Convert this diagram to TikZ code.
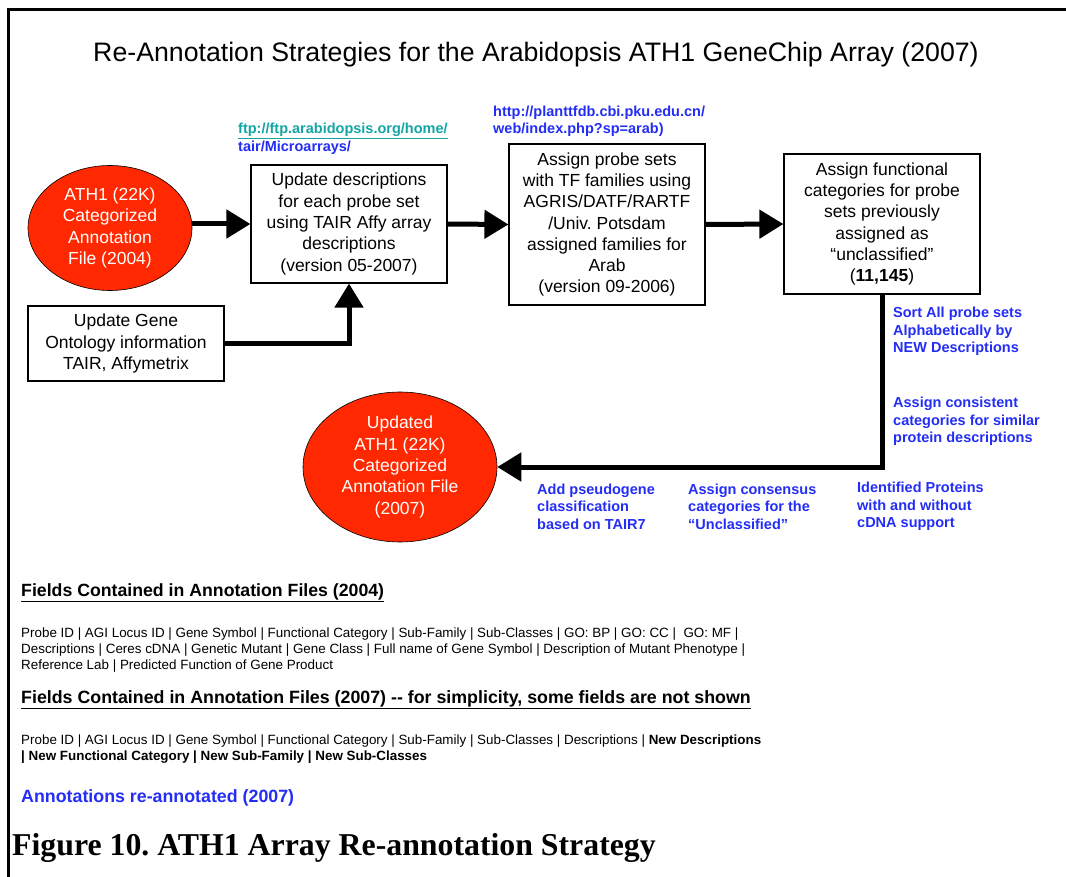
\documentclass[tikz,border=0pt]{standalone}
\usepackage{fontspec}
\setmainfont{Liberation Sans}
\newfontfamily\capfont{Liberation Serif}
\usepackage{xcolor}
\usepackage{tikz}
\usetikzlibrary{shapes.geometric,arrows.meta}

\definecolor{annored}{RGB}{255,40,0}
\definecolor{annoblue}{RGB}{35,45,245}
\definecolor{annoteal}{RGB}{20,165,165}

\newcommand{\boxfont}{\fontsize{17.5}{21.3}\selectfont}
\newcommand{\notefont}{\fontsize{14.5}{17.5}\selectfont\bfseries}
\newcommand{\listfont}{\fontsize{13.4}{16}\selectfont}
\frenchspacing

\begin{document}
\begin{tikzpicture}[x=1pt,y=-1pt,
		box/.style={draw, line width=1.2pt, minimum width=196pt, align=center, inner sep=0pt, font=\boxfont},
		blob/.style={ellipse, draw=black, line width=0.6pt, fill=annored, text=white, align=center, inner sep=0pt, font=\boxfont},
		flow/.style={line width=5pt, -{Triangle[length=24pt,width=28pt]}},
		note/.style={anchor=west, align=left, text=annoblue, inner sep=0pt, font=\notefont},
		field/.style={anchor=west, align=left, inner sep=0pt, font=\listfont}]
	\useasboundingbox (0,0) rectangle (1066,877);
	\draw[line width=3pt] (8,877) -- (8,10) -- (1066,10);

	\node[font=\fontsize{26.7}{30}\selectfont] (title) at (536,55)
		{Re-Annotation Strategies for the Arabidopsis ATH1 GeneChip Array (2007)};

	% flow of steps
	\node[blob, minimum width=164pt, minimum height=125pt] (old) at (110,228)
		{ATH1 (22K)\\Categorized\\Annotation\\File (2004)};
	\node[box, minimum height=118pt] (desc) at (349,224)
		{Update descriptions\\for each probe set\\using TAIR Affy array\\descriptions\\(version 05-2007)};
	\node[box, minimum height=161pt] (tf) at (607,224.5)
		{Assign probe sets\\with TF families using\\AGRIS/DATF/RARTF\\/Univ. Potsdam\\assigned families for\\Arab\\(version 09-2006)};
	\node[box, minimum height=140pt] (func) at (882,224)
		{Assign functional\\categories for probe\\sets previously\\assigned as\\“unclassified”\\(\textbf{11,145})};
	\node[box, minimum height=75pt] (go) at (126,343.5)
		{Update Gene\\Ontology information\\TAIR, Affymetrix};
	\node[blob, minimum width=194pt, minimum height=150pt] (new) at (400,467)
		{Updated\\ATH1 (22K)\\Categorized\\Annotation File\\(2007)};

	\draw[flow] (old.east |- desc.west) -- (desc.west);
	\draw[flow] (desc.east) -- (tf.west);
	\draw[flow] (tf.east) -- (func.west);
	\draw[flow] (go.east) -| (desc.south);
	\draw[flow] (func.south) |- (new.east);

	% blue notes
	\node[note] (ftp) at (238,139)
		{\color{annoteal}\underline{ftp://ftp.arabidopsis.org/home/}\\tair/Microarrays/};
	\node[note] (pku) at (493,121.5) {http://planttfdb.cbi.pku.edu.cn/\\web/index.php?sp=arab)};
	\node[note] (sort) at (893,331.5) {Sort All probe sets\\Alphabetically by\\NEW Descriptions};
	\node[note] (cons) at (893,421.5) {Assign consistent\\categories for similar\\protein descriptions};
	\node[note] (pseudo) at (537,506.5) {Add pseudogene\\classification\\based on TAIR7};
	\node[note] (uncl) at (688,506.5) {Assign consensus\\categories for the\\“Unclassified”};
	\node[note] (prot) at (857,506.5) {Identified Proteins\\with and without\\cDNA support};

	% field lists
	\node[field, font=\fontsize{17.7}{20}\selectfont\bfseries] (head04) at (21,593)
		{\underline{Fields Contained in Annotation Files (2004)}};
	\node[field] (list04) at (21,650)
		{Probe ID | AGI Locus ID | Gene Symbol | Functional Category | Sub-Family | Sub-Classes | GO: BP | GO: CC |\ \ GO: MF |\\
		Descriptions | Ceres cDNA | Genetic Mutant | Gene Class | Full name of Gene Symbol | Description of Mutant Phenotype |\\
		Reference Lab | Predicted Function of Gene Product};
	\node[field, font=\fontsize{17.8}{20}\selectfont\bfseries] (head07) at (21,700)
		{\underline{Fields Contained in Annotation Files (2007) -{}- for simplicity, some fields are not shown}};
	\node[field] (list07) at (21,749)
		{Probe ID | AGI Locus ID | Gene Symbol | Functional Category | Sub-Family | Sub-Classes | Descriptions | \textbf{New Descriptions}\\
		\textbf{| New Functional Category | New Sub-Family | New Sub-Classes}};
	\node[field, text=annoblue, font=\fontsize{17.8}{20}\selectfont\bfseries] (reann) at (21,798)
		{Annotations re-annotated (2007)};
	\node[field, font=\fontsize{31.8}{34}\selectfont\capfont\bfseries] (caption) at (12,848)
		{Figure 10. ATH1 Array Re-annotation Strategy};
\end{tikzpicture}
\end{document}
